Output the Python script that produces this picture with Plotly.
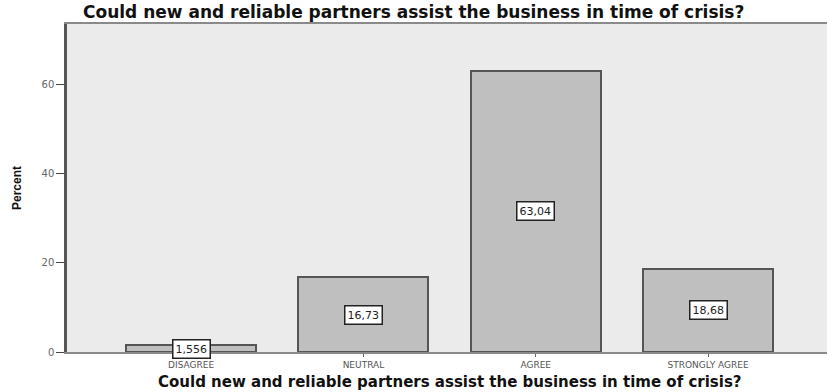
import plotly.graph_objects as go

# Survey responses
categories = ["DISAGREE", "NEUTRAL", "AGREE", "STRONGLY AGREE"]
percents = [1.556, 16.73, 63.04, 18.68]
y_ticks = [0, 20, 40, 60]

question = "Could new and reliable partners assist the business in time of crisis?"

W, H = 827, 392
L, R, T, B = 67, 0, 24, 40
PW, PH = W - L - R, H - T - B


def px_x(x):
    """Convert a pixel column to plot-area paper coordinates."""
    return (x - L) / PW


def px_y(y):
    """Convert a pixel row to plot-area paper coordinates."""
    return (H - B - y) / PH


fig = go.Figure()

fig.add_trace(go.Bar(
    x=categories,
    y=percents,
    width=0.755,
    marker=dict(color="#bfbfbf", line=dict(color="#555555", width=2)),
    hoverinfo="skip",
))

# Boxed value labels in the middle of each bar
for cat, val in zip(categories, percents):
    fig.add_annotation(
        x=cat, y=val / 2, xref="x", yref="y",
        text=f"{val}".replace(".", ","),
        showarrow=False,
        font=dict(family="DejaVu Sans", size=11, color="#222"),
        bgcolor="white", bordercolor="#222", borderwidth=1.5, borderpad=2,
    )

# Chart title
fig.add_annotation(
    x=px_x(413), y=px_y(12), xref="paper", yref="paper",
    xanchor="center", yanchor="middle", showarrow=False,
    text=f"<b>{question}</b>",
    font=dict(family="DejaVu Sans", size=17, color="#111"),
)
# X axis title
fig.add_annotation(
    x=px_x(450), y=px_y(382), xref="paper", yref="paper",
    xanchor="center", yanchor="middle", showarrow=False,
    text=f"<b>{question}</b>",
    font=dict(family="DejaVu Sans", size=15, color="#111"),
)
# Y axis title
fig.add_annotation(
    x=px_x(17), y=px_y(188), xref="paper", yref="paper",
    xanchor="center", yanchor="middle", showarrow=False, textangle=-90,
    text="<b>Percent</b>",
    font=dict(family="Liberation Sans", size=12, color="#111"),
)

fig.update_layout(
    width=W, height=H,
    margin=dict(l=L, r=R, t=T, b=B),
    paper_bgcolor="white",
    plot_bgcolor="#ebebeb",
    showlegend=False,
    bargap=0,
    xaxis=dict(
        range=[-0.72, 3.69],
        showgrid=False,
        showline=True, linecolor="#8a8a8a", linewidth=2, mirror=True,
        ticks="outside", ticklen=3, tickcolor="#666",
        tickfont=dict(family="DejaVu Sans", size=9, color="#555"),
        fixedrange=True,
    ),
    yaxis=dict(
        range=[0, 73.5],
        tickvals=y_ticks,
        showgrid=False, zeroline=False,
        showline=True, linecolor="#555", linewidth=2.5,
        ticks="outside", ticklen=8, tickcolor="#444",
        tickfont=dict(family="DejaVu Sans", size=10, color="#666"),
        fixedrange=True,
    ),
)

fig.write_html("out.html")
